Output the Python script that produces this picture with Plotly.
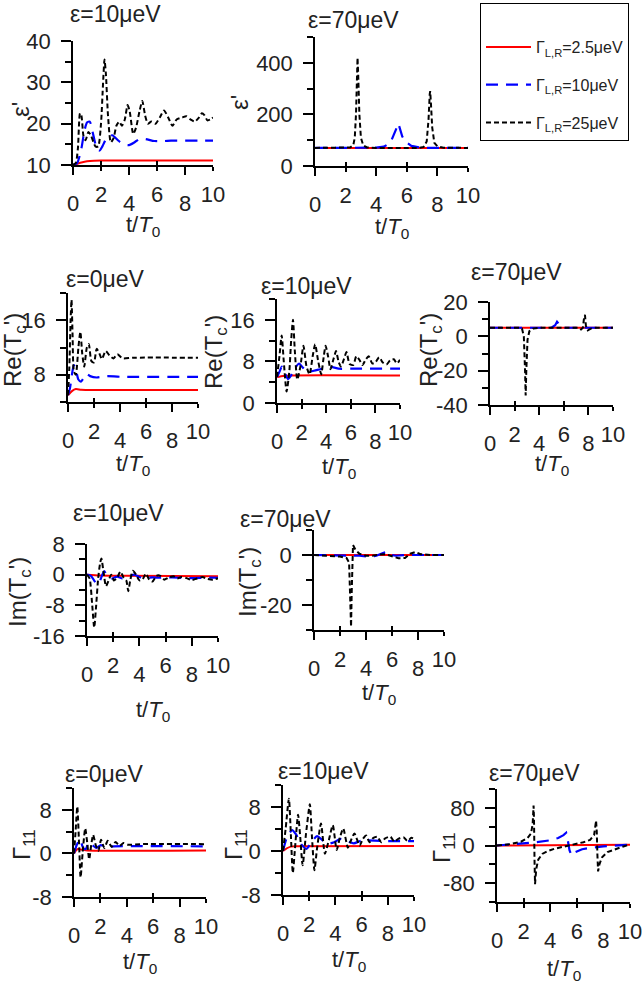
import plotly.graph_objects as go

W, H = 643, 988

# ---------------- data ----------------
# A: eps' , eps=10 ueV
A_red_t = [0, 0.3, 0.6, 1.0, 1.5, 2.0, 10]
A_red_y = [10, 10.3, 10.6, 10.9, 11.05, 11.1, 11.1]
A_blue_t = [0, 0.3, 0.6, 0.8, 1.0, 1.2, 1.4, 1.7, 1.9, 2.1, 2.4, 2.8, 3.2, 3.6, 4.0, 4.4, 4.8, 5.3, 5.8, 6.5, 7, 8, 9, 10]
A_blue_y = [10, 10.5, 14, 18, 20.3, 20.5, 18, 14, 13.5, 14.5, 16.5, 17.2, 16, 15, 14.8, 15.5, 16.4, 16.2, 15.8, 15.8, 15.9, 15.9, 15.9, 15.9]
A_black_t = [0, 0.2, 0.35, 0.5, 0.6, 0.75, 0.9, 1.1, 1.3, 1.6, 1.8, 2.0, 2.15, 2.25, 2.35, 2.5, 2.7, 2.9, 3.1, 3.3, 3.5, 3.7, 3.9, 4.05, 4.3, 4.5, 4.75, 4.95, 5.15, 5.35, 5.6, 5.9, 6.2, 6.5, 6.8, 7.1, 7.4, 7.8, 8.1, 8.4, 8.7, 9.0, 9.2, 9.4, 9.6, 9.8, 10]
A_black_y = [10, 10.5, 14, 22.5, 22, 17, 16, 18, 17, 14.5, 14.5, 20, 30, 35.5, 32, 22, 15.5, 16.5, 19.5, 20.5, 19.5, 21, 24.5, 23, 17.5, 19, 23, 25.5, 22, 20, 20.5, 20, 21.5, 23.2, 21.5, 19.5, 21, 21.5, 21.8, 21, 20.5, 21.5, 22.5, 22, 20.8, 21, 21.5]

# B: eps' , eps=70 ueV
B_red_t = [0, 10]
B_red_y = [70, 70]
B_blue_t = [0, 4.0, 4.5, 4.8, 5.0, 5.2, 5.35, 5.45, 5.55, 5.7, 5.9, 6.3, 6.8, 7.5, 10]
B_blue_y = [70, 71, 75, 85, 100, 125, 150, 165, 145, 115, 95, 78, 72, 70, 70]
B_black_t = [0, 2.0, 2.3, 2.5, 2.6, 2.68, 2.75, 2.78, 2.82, 2.9, 3.0, 3.15, 3.4, 4.0, 6.8, 7.1, 7.3, 7.42, 7.5, 7.53, 7.58, 7.66, 7.8, 8.0, 8.4, 10]
B_black_y = [70, 70, 72, 80, 110, 200, 380, 420, 360, 200, 110, 80, 72, 70, 70, 74, 95, 180, 280, 290, 240, 150, 90, 76, 71, 70]

# C: Re(Tc') , eps=0 ueV
C_red_t = [0, 0.3, 0.6, 1.0, 2.0, 10]
C_red_y = [5.0, 5.6, 5.9, 5.8, 5.75, 5.75]
C_blue_t = [0, 0.15, 0.3, 0.45, 0.6, 0.8, 1.0, 1.2, 1.45, 1.7, 2.2, 3.0, 4.0, 10]
C_blue_y = [5, 6, 8, 9.4, 8.8, 7.3, 7.0, 7.5, 8.1, 7.8, 7.6, 7.8, 7.7, 7.7]
C_black_t = [0, 0.1, 0.2, 0.27, 0.35, 0.45, 0.6, 0.8, 0.95, 1.1, 1.25, 1.45, 1.6, 1.8, 2.0, 2.2, 2.4, 2.6, 2.9, 3.2, 3.5, 3.8, 4.2, 5.0, 10]
C_black_y = [5, 9, 16, 19, 14, 8.5, 8, 12, 14.3, 11, 9.2, 12, 12.5, 10, 9.8, 11.8, 11.2, 10.3, 11.5, 10.8, 10.4, 11, 10.4, 10.5, 10.5]

# D: Re(Tc') , eps=10 ueV
D_red_t = [0, 0.5, 1.0, 10]
D_red_y = [5.0, 5.2, 5.3, 5.3]
D_blue_t = [0, 0.2, 0.4, 0.6, 0.9, 1.2, 1.5, 1.8, 2.1, 2.5, 3.0, 3.5, 4.0, 4.5, 5.0, 6.0, 10]
D_blue_y = [5, 6, 7, 6, 4.6, 5.5, 6.8, 7.6, 6.8, 6.0, 6.2, 6.5, 6.8, 6.9, 6.6, 6.6, 6.6]
D_black_t = [0, 0.2, 0.38, 0.55, 0.78, 1.0, 1.15, 1.3, 1.45, 1.65, 1.9, 2.15, 2.4, 2.65, 2.9, 3.1, 3.35, 3.6, 3.75, 3.95, 4.15, 4.35, 4.6, 4.8, 5.0, 5.2, 5.45, 5.65, 5.9, 6.2, 6.45, 6.7, 6.95, 7.2, 7.45, 7.75, 8.0, 8.3, 8.6, 8.9, 9.2, 9.5, 9.75, 10]
D_black_y = [5, 9, 13, 8, 2.2, 6, 12, 16, 10, 4.5, 7, 11, 7, 5.5, 9, 11.3, 8, 5.5, 8, 11, 9, 6.5, 8.5, 10, 8, 7, 8.5, 9.8, 7.5, 7.3, 9, 8.3, 7.3, 8.3, 9, 7.6, 7.8, 8.8, 7.8, 7.4, 8.2, 8.4, 7.6, 8.3]

# E: Re(Tc') , eps=70 ueV
E_red_t = [0, 10]
E_red_y = [5, 5]
E_blue_t = [0, 5.0, 5.3, 5.45, 5.8, 6.1, 10]
E_blue_y = [5, 5, 6.5, 8.5, 5.5, 5, 5]
E_black_t = [0, 2.4, 2.6, 2.75, 2.85, 2.9, 2.95, 3.05, 3.2, 3.5, 4.0, 7.2, 7.4, 7.55, 7.65, 7.72, 7.8, 7.95, 8.2, 8.5, 10]
E_black_y = [5, 5, 4.5, 0, -20, -34.5, -20, -2, 3, 4.5, 5, 5, 4, 5, 11, 12.5, 6, 3.5, 4.5, 5, 5]

# F: Im(Tc') , eps=10 ueV
F_red_t = [0, 1, 3, 10]
F_red_y = [0, -0.2, -0.3, -0.4]
F_blue_t = [0, 0.3, 0.6, 0.8, 1.0, 1.3, 1.6, 1.9, 2.3, 2.7, 3.1, 3.6, 4.0, 4.5, 5.0, 5.5, 6, 7, 8, 9, 10]
F_blue_y = [0, -0.3, -1.8, -2.5, -1.5, 0.9, -0.5, -1.0, -0.5, -1, -0.6, 0, -0.6, -0.9, -0.7, -0.8, -0.7, -0.8, -0.9, -0.8, -0.8]
F_black_t = [0, 0.2, 0.4, 0.55, 0.7, 0.85, 1.0, 1.1, 1.25, 1.45, 1.65, 1.85, 2.05, 2.3, 2.55, 2.8, 3.0, 3.15, 3.3, 3.5, 3.75, 4.0, 4.25, 4.5, 4.75, 5.0, 5.3, 5.6, 5.9, 6.2, 6.6, 6.9, 7.2, 7.6, 8.0, 8.4, 8.8, 9.2, 9.6, 10]
F_black_y = [0, -1, -8, -13.8, -8, -1, 3, 4.2, 1, -3, -1.5, 0, -1.5, -0.8, 0.8, -0.8, -1.5, -4.3, -1.5, 1, 0, -1.5, -1.2, 0.3, -1.3, -1.8, -0.3, -0.3, -1.3, -0.8, -0.4, -1, -0.6, -0.9, -1.4, -1, -0.6, -1.1, -1.3, -1]

# G: Im(Tc') , eps=70 ueV
G_red_t = [0, 10]
G_red_y = [0, 0]
G_blue_t = [0, 3.5, 4.3, 4.8, 5.3, 5.6, 5.9, 6.3, 7, 10]
G_blue_y = [0, -0.3, -0.8, -0.3, 0.8, 1.2, 0, -0.3, 0, 0]
G_black_t = [0, 1, 2, 2.5, 2.7, 2.8, 2.85, 2.9, 2.95, 3.0, 3.2, 3.5, 4, 4.5, 5, 5.5, 6.0, 6.5, 7.0, 7.4, 7.8, 8.2, 9, 10]
G_black_y = [0, -0.3, -0.6, -1.2, -3, -20, -28.7, -15, 0, 4, 2, 0.5, -0.3, -0.3, 0.2, 0.3, -0.5, -1.3, -1.2, 0.5, 1.2, 0.3, 0, 0]

# H: Gamma11 , eps=0 ueV
H_red_t = [0, 0.15, 0.3, 0.5, 1, 10]
H_red_y = [0, 0.5, 0.8, 0.7, 0.55, 0.55]
H_blue_t = [0, 0.2, 0.45, 0.7, 0.9, 1.1, 1.4, 1.7, 2.0, 2.5, 3, 10]
H_blue_y = [0, 1.5, 2.6, 1.0, 0.8, 2, 1.5, 1.0, 1.5, 1.2, 1.3, 1.3]
H_black_t = [0, 0.12, 0.25, 0.38, 0.5, 0.65, 0.85, 1.0, 1.15, 1.3, 1.45, 1.65, 1.85, 2.05, 2.3, 2.55, 2.85, 3.15, 3.45, 3.75, 4.1, 5, 10]
H_black_y = [0, 4, 8.6, 2, -4.4, 0, 4.6, 2, -1.1, 1.5, 3.4, 1.5, 0.5, 2.5, 1, 2.3, 1.2, 2.1, 1.4, 1.9, 1.6, 1.7, 1.7]

# I: Gamma11 , eps=10 ueV
I_red_t = [0, 0.3, 0.6, 1, 10]
I_red_y = [0, 0.5, 0.8, 0.85, 0.9]
I_blue_t = [0, 0.3, 0.7, 1.0, 1.4, 1.8, 2.2, 2.6, 3.0, 3.4, 3.9, 4.4, 4.9, 5.4, 6, 7, 8, 10]
I_blue_y = [0, 2.5, 3.8, 3.0, 1.2, 0.4, 1.7, 2.7, 2, 1.3, 1.6, 2.2, 1.8, 1.4, 1.9, 1.9, 1.8, 1.8]
I_black_t = [0, 0.2, 0.45, 0.6, 0.75, 0.9, 1.15, 1.3, 1.5, 1.75, 2.05, 2.2, 2.4, 2.6, 2.9, 3.2, 3.5, 3.8, 4.1, 4.35, 4.6, 4.95, 5.2, 5.45, 5.85, 6.1, 6.35, 6.6, 6.9, 7.2, 7.5, 7.8, 8.2, 8.5, 8.8, 9.2, 9.5, 9.8, 10]
I_black_y = [0, 4, 9.5, 3, -4, 0, 6.6, 3, -2.6, 3, 8.5, 3, -3.5, 0.5, 5, -0.5, 2, 4.7, 0.2, 2.5, 4.1, 0.6, 2, 3.2, 1.0, 2.2, 2.8, 1.6, 2.4, 2.6, 1.6, 2.3, 2.6, 1.7, 2.2, 2.5, 1.8, 2.4, 2.2]

# J: Gamma11 , eps=70 ueV
J_red_t = [0, 10]
J_red_y = [0, 1.5]
J_blue_t = [0, 1, 2, 3, 4, 4.6, 5.0, 5.2, 5.3, 5.45, 5.6, 5.9, 6.4, 7, 8, 9, 10]
J_blue_y = [0, 2, 4, 7, 11, 16, 22, 27, 15, -10, -21, -14, -8, -5, -2, 0, 2]
J_black_t = [0, 1, 1.8, 2.3, 2.55, 2.68, 2.75, 2.78, 2.82, 2.86, 2.95, 3.1, 3.4, 3.8, 4.3, 5, 5.5, 6, 6.5, 7, 7.3, 7.45, 7.5, 7.55, 7.6, 7.7, 7.9, 8.3, 9, 9.5, 10]
J_black_y = [0, 3, 8, 16, 25, 45, 85, 60, -30, -82, -50, -30, -18, -12, -7, -3, 0, 3, 7, 12, 22, 53, 30, -20, -55, -40, -25, -14, -6, -2, 2]

# tick labels
X_TICKS_LOW = [0, 4, 8]
X_TICKS_HIGH = [2, 6, 10]

SERIES_NAMES = ["Γ<sub>L,R</sub>=2.5μeV", "Γ<sub>L,R</sub>=10μeV", "Γ<sub>L,R</sub>=25μeV"]

A_yticks = [10, 20, 30, 40];  A_yminor = [15, 25, 35]
B_yticks = [0, 200, 400];     B_yminor = [100, 300, 500]
C_yticks = [8, 16];           C_yminor = [4, 12, 20]
D_yticks = [0, 8, 16];        D_yminor = [4, 12, 20]
E_yticks = [20, 0, -20, -40]; E_yminor = [10, -10, -30]
F_yticks = [8, 0, -8, -16];   F_yminor = [4, -4, -12]
G_yticks = [0, -20];          G_yminor = [10, -10, -30]
H_yticks = [8, 0, -8];        H_yminor = [12, 4, -4]
I_yticks = [8, 0, -8];        I_yminor = [12, 4, -4]
J_yticks = [80, 0, -80];      J_yminor = [120, 40, -40, -120]

# ---------------- layout geometry (pixels) ----------------
FONT = "Liberation Sans, Arial, sans-serif"
panels = [
    dict(d=(A_red_t, A_red_y, A_blue_t, A_blue_y, A_black_t, A_black_y), yt=A_yticks, ym=A_yminor, yr=[10, 40],
         box=(73, 213, 41, 165), title="ε=10μeV", tp=(115, 14), yl="ε'", ylp=(20, 110), xly=226, shape="spline"),
    dict(d=(B_red_t, B_red_y, B_blue_t, B_blue_y, B_black_t, B_black_y), yt=B_yticks, ym=B_yminor, yr=[0, 500],
         box=(315, 468, 37, 166), title="ε=70μeV", tp=(353, 20), yl="ε'", ylp=(240, 103), xly=228, shape="linear"),
    dict(d=(C_red_t, C_red_y, C_blue_t, C_blue_y, C_black_t, C_black_y), yt=C_yticks, ym=C_yminor, yr=[4, 20],
         box=(68, 198, 293, 402), title="ε=0μeV", tp=(105, 279), yl="Re(T<sub>c</sub>')", ylp=(15, 350), xly=465, shape="spline"),
    dict(d=(D_red_t, D_red_y, D_blue_t, D_blue_y, D_black_t, D_black_y), yt=D_yticks, ym=D_yminor, yr=[0, 20],
         box=(277, 400, 299, 403), title="ε=10μeV", tp=(306, 286), yl="Re(T<sub>c</sub>')", ylp=(215, 352), xly=468, shape="spline"),
    dict(d=(E_red_t, E_red_y, E_blue_t, E_blue_y, E_black_t, E_black_y), yt=E_yticks, ym=E_yminor, yr=[-40, 20],
         box=(490, 613, 302, 405), title="ε=70μeV", tp=(516, 272), yl="Re(T<sub>c</sub>')", ylp=(431, 350), xly=465, shape="linear"),
    dict(d=(F_red_t, F_red_y, F_blue_t, F_blue_y, F_black_t, F_black_y), yt=F_yticks, ym=F_yminor, yr=[-16, 8],
         box=(87, 218, 544, 636), title="ε=10μeV", tp=(118, 513), yl="Im(T<sub>c</sub>')", ylp=(19, 592), xly=711, shape="spline"),
    dict(d=(G_red_t, G_red_y, G_blue_t, G_blue_y, G_black_t, G_black_y), yt=G_yticks, ym=G_yminor, yr=[-30, 10],
         box=(314, 444, 530, 630), title="ε=70μeV", tp=(285, 519), yl="Im(T<sub>c</sub>')", ylp=(249, 582), xly=694, shape="linear"),
    dict(d=(H_red_t, H_red_y, H_blue_t, H_blue_y, H_black_t, H_black_y), yt=H_yticks, ym=H_yminor, yr=[-8, 12],
         box=(74, 206, 788, 897), title="ε=0μeV", tp=(104, 774), yl="Γ<sub>11</sub>", ylp=(23, 845), xly=963, shape="spline"),
    dict(d=(I_red_t, I_red_y, I_blue_t, I_blue_y, I_black_t, I_black_y), yt=I_yticks, ym=I_yminor, yr=[-8, 12],
         box=(283, 414, 785, 895), title="ε=10μeV", tp=(323, 771), yl="Γ<sub>11</sub>", ylp=(235, 845), xly=961, shape="spline"),
    dict(d=(J_red_t, J_red_y, J_blue_t, J_blue_y, J_black_t, J_black_y), yt=J_yticks, ym=J_yminor, yr=[-120, 120],
         box=(497, 630, 789, 902), title="ε=70μeV", tp=(534, 773), yl="Γ<sub>11</sub>", ylp=(443, 848), xly=970, shape="linear"),
]

STYLES = [
    dict(color="#ff0000", width=2, dash="solid"),
    dict(color="#0000ff", width=2.2, dash="12px,8px"),
    dict(color="#000000", width=2, dash="5px,3px"),
]


def px2x(p):
    return p / W


def px2y(p):
    return 1 - p / H


fig = go.Figure()
annotations = []
layout = {}
n = len(panels)
for i, p in enumerate(panels, start=1):
    xs = "" if i == 1 else str(i)
    xref, yref = "x" + xs, "y" + xs
    ovl = str(n + i)
    x0, x1, yt, yb = p["box"]
    d = p["d"]
    for k in range(3):
        line = dict(STYLES[k])
        if p["shape"] == "spline":
            line.update(shape="spline", smoothing=0.6)
        fig.add_trace(go.Scatter(
            x=d[2 * k], y=d[2 * k + 1], mode="lines", name=SERIES_NAMES[k],
            legendgroup="g%d" % k, showlegend=(i == 1), line=line,
            xaxis=xref, yaxis=yref, hoverinfo="skip"))
    # empty trace so the overlay axis (labels 2, 6, 10) is drawn
    fig.add_trace(go.Scatter(x=[], y=[], mode="lines", showlegend=False, hoverinfo="skip",
                             xaxis="x" + ovl, yaxis=yref))
    dom_x = [px2x(x0), px2x(x1)]
    dom_y = [px2y(yb), px2y(yt)]
    tickfont = dict(family=FONT, size=22, color="#222")
    layout["xaxis" + xs] = dict(
        domain=dom_x, range=[0, 10], anchor=yref, showline=True, linecolor="black", linewidth=1.5,
        ticks="outside", ticklen=8, tickwidth=1.5, tickcolor="black",
        tickmode="array", tickvals=X_TICKS_LOW, ticktext=[str(v) for v in X_TICKS_LOW],
        minor=dict(tickmode="array", tickvals=X_TICKS_HIGH, ticks="outside", ticklen=4, tickwidth=1.5, tickcolor="black"),
        tickfont=tickfont, tickangle=0, ticklabelstandoff=10,
        showgrid=False, zeroline=False, fixedrange=True)
    layout["xaxis" + ovl] = dict(
        domain=dom_x, overlaying=xref, anchor=yref, side="bottom", range=[0, 10], showline=False,
        ticks="inside", ticklen=4, tickwidth=1.5, tickcolor="black",
        tickmode="array", tickvals=X_TICKS_HIGH, ticktext=[str(v) for v in X_TICKS_HIGH],
        tickfont=tickfont, tickangle=0, ticklabelstandoff=14,
        showgrid=False, zeroline=False, fixedrange=True)
    layout["yaxis" + xs] = dict(
        domain=dom_y, range=p["yr"], anchor=xref, showline=True, linecolor="black", linewidth=1.5,
        ticks="outside", ticklen=10, tickwidth=1.5, tickcolor="black",
        tickmode="array", tickvals=p["yt"], ticktext=[str(v) for v in p["yt"]],
        minor=dict(tickmode="array", tickvals=p["ym"], ticks="outside", ticklen=6, tickwidth=1.5, tickcolor="black"),
        tickfont=tickfont, ticklabelstandoff=6,
        showgrid=False, zeroline=False, fixedrange=True)
    annotations.append(dict(text=p["title"], x=px2x(p["tp"][0]), y=px2y(p["tp"][1]), xref="paper", yref="paper",
                            showarrow=False, xanchor="center", yanchor="middle",
                            font=dict(family=FONT, size=23, color="#222")))
    annotations.append(dict(text=p["yl"], x=px2x(p["ylp"][0]), y=px2y(p["ylp"][1]), xref="paper", yref="paper",
                            showarrow=False, xanchor="center", yanchor="middle", textangle=-90,
                            font=dict(family=FONT, size=24, color="#222")))
    annotations.append(dict(text="t/<i>T</i><sub>0</sub>", x=px2x((x0 + x1) / 2), y=px2y(p["xly"]),
                            xref="paper", yref="paper", showarrow=False, xanchor="center", yanchor="middle",
                            font=dict(family=FONT, size=22, color="#222")))

fig.update_layout(
    width=W, height=H, margin=dict(l=0, r=0, t=0, b=0, autoexpand=False),
    paper_bgcolor="white", plot_bgcolor="white",
    annotations=annotations,
    legend=dict(x=px2x(629), y=px2y(3), xanchor="right", yanchor="top",
                bordercolor="black", borderwidth=1, bgcolor="white",
                title=dict(text=" ", font=dict(family=FONT, size=20)),
                font=dict(family=FONT, size=16, color="#222"),
                tracegroupgap=14, itemwidth=45),
    **layout,
)
fig.write_html("out.html", config={"displayModeBar": False},
               post_script="document.body.style.margin='0px';")
